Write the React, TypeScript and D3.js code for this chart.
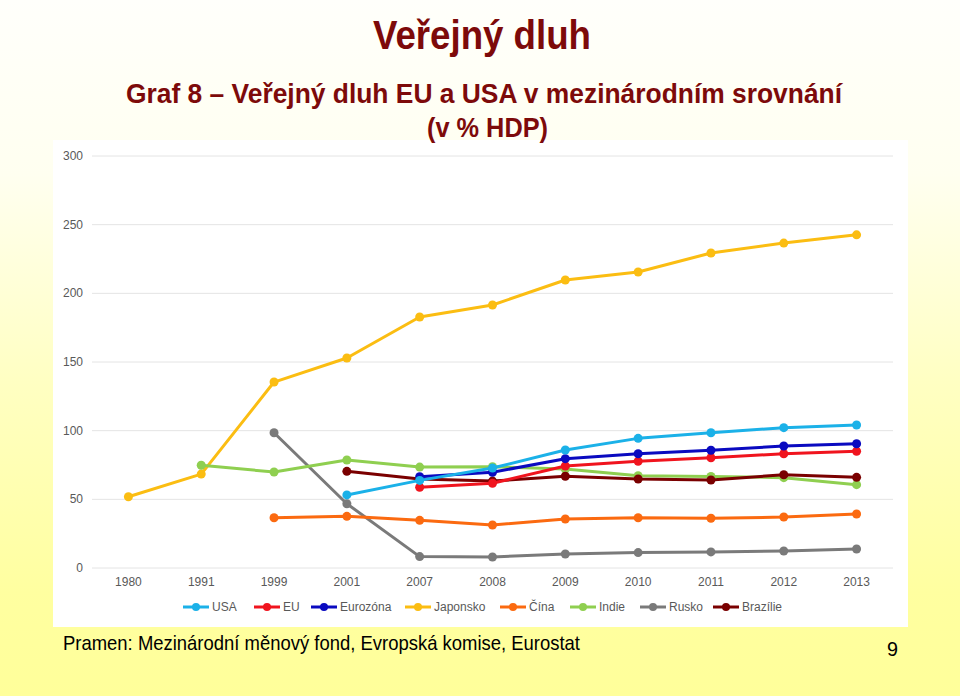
import React from "react";
import * as d3 from "d3";

const years = ["1980", "1991", "1999", "2001", "2007", "2008", "2009", "2010", "2011", "2012", "2013"];
const yTicks = [0, 50, 100, 150, 200, 250, 300];

const usa = [null, null, null, 53.2, 63.8, 72.8, 85.9, 94.4, 98.5, 102.2, 104.1];
const eu = [null, null, null, null, 58.8, 61.7, 74.3, 77.7, 80.3, 83.2, 85.0];
const eurozona = [null, null, null, null, 66.5, 69.7, 79.6, 83.2, 85.7, 88.8, 90.5];
const japonsko = [51.9, 68.4, 135.4, 152.9, 182.8, 191.5, 209.7, 215.5, 229.4, 236.6, 242.6];
const cina = [null, null, 36.6, 37.6, 34.7, 31.3, 35.7, 36.6, 36.2, 37.1, 39.3];
const indie = [null, 74.8, 69.9, 78.6, 73.5, 73.8, 72.1, 67.2, 66.7, 65.8, 60.7];
const rusko = [null, null, 98.5, 46.8, 8.3, 8.0, 10.2, 11.2, 11.7, 12.4, 13.8];
const brazilie = [null, null, null, 70.4, 64.8, 63.3, 66.8, 64.8, 64.1, 67.9, 66.0];

const seriesNames = ["USA", "EU", "Eurozóna", "Japonsko", "Čína", "Indie", "Rusko", "Brazílie"];
const seriesValues = [usa, eu, eurozona, japonsko, cina, indie, rusko, brazilie];
const seriesColors = ["#1bb1e8", "#f0141e", "#0a0ac0", "#fbbd12", "#fb6a10", "#8fcf50", "#7a7a7a", "#7a0000"];
// draw order (back to front)
const drawOrder = [6, 4, 3, 5, 7, 1, 2, 0];

const legendX = [183, 254, 311, 405, 500, 570, 640, 713];

export default function App() {
  const W = 960, H = 696;
  const x = d3.scaleBand<string>().domain(years).range([92, 893]);
  const y = d3.scaleLinear().domain([0, 300]).range([568, 156]);
  const cx = (yr: string) => (x(yr) as number) + x.bandwidth() / 2;
  const line = d3
    .line<number | null>()
    .defined((d) => d !== null)
    .x((_, i) => cx(years[i]))
    .y((d) => y(d as number));

  const font = "'Liberation Sans', Arial, Helvetica, sans-serif";

  return (
    <svg
      width={W}
      height={H}
      style={{ position: "absolute", left: 0, top: 0, display: "block" }}
      fontFamily={font}
    >
      <defs>
        <linearGradient id="bg" x1="0" y1="0" x2="0" y2="1">
          <stop offset="0" stopColor="#fffffb" />
          <stop offset="0.25" stopColor="#fffff0" />
          <stop offset="0.55" stopColor="#ffffc2" />
          <stop offset="0.85" stopColor="#ffffa0" />
          <stop offset="1" stopColor="#ffff9a" />
        </linearGradient>
      </defs>
      <rect x={0} y={0} width={W} height={H} fill="url(#bg)" />
      <rect x={53} y={140} width={855} height={487} fill="#ffffff" />

      {/* titles */}
      <text x={482} y={49} textAnchor="middle" fontSize={41} fontWeight="bold" fill="#7d0a0a"
        textLength={218} lengthAdjust="spacingAndGlyphs">Veřejný dluh</text>
      <text x={484} y={103} textAnchor="middle" fontSize={28} fontWeight="bold" fill="#7d0a0a"
        textLength={716} lengthAdjust="spacingAndGlyphs">Graf 8 – Veřejný dluh EU a USA v mezinárodním srovnání</text>
      <text x={487.5} y={137} textAnchor="middle" fontSize={28} fontWeight="bold" fill="#7d0a0a"
        textLength={121} lengthAdjust="spacingAndGlyphs">(v % HDP)</text>

      {/* grid */}
      {yTicks.map((t) => (
        <g key={t}>
          <line x1={92} x2={893} y1={y(t)} y2={y(t)} stroke="#e4e4e4" strokeWidth={1} />
          <text x={83} y={y(t) + 4} textAnchor="end" fontSize={12} fill="#595959">{t}</text>
        </g>
      ))}
      {years.map((yr) => (
        <text key={yr} x={cx(yr)} y={586} textAnchor="middle" fontSize={12} fill="#595959">{yr}</text>
      ))}

      {/* series */}
      {drawOrder.map((si) => {
        const vals = seriesValues[si];
        return (
          <g key={si}>
            <path d={line(vals) || ""} fill="none" stroke={seriesColors[si]} strokeWidth={3} strokeLinejoin="round" />
            {vals.map((v, i) =>
              v === null ? null : (
                <circle key={i} cx={cx(years[i])} cy={y(v)} r={4.5} fill={seriesColors[si]} />
              )
            )}
          </g>
        );
      })}

      {/* legend */}
      {seriesNames.map((n, i) => (
        <g key={n}>
          <line x1={legendX[i]} x2={legendX[i] + 26} y1={607} y2={607} stroke={seriesColors[i]} strokeWidth={3} />
          <circle cx={legendX[i] + 13} cy={607} r={4} fill={seriesColors[i]} />
          <text x={legendX[i] + 29} y={611} fontSize={12} fill="#595959">{n}</text>
        </g>
      ))}

      {/* footer */}
      <text x={63} y={650} fontSize={21} fill="#000000" textLength={517} lengthAdjust="spacingAndGlyphs">
        Pramen: Mezinárodní měnový fond, Evropská komise, Eurostat
      </text>
      <text x={887} y={656} fontSize={21} fill="#000000" textLength={11} lengthAdjust="spacingAndGlyphs">9</text>
    </svg>
  );
}
